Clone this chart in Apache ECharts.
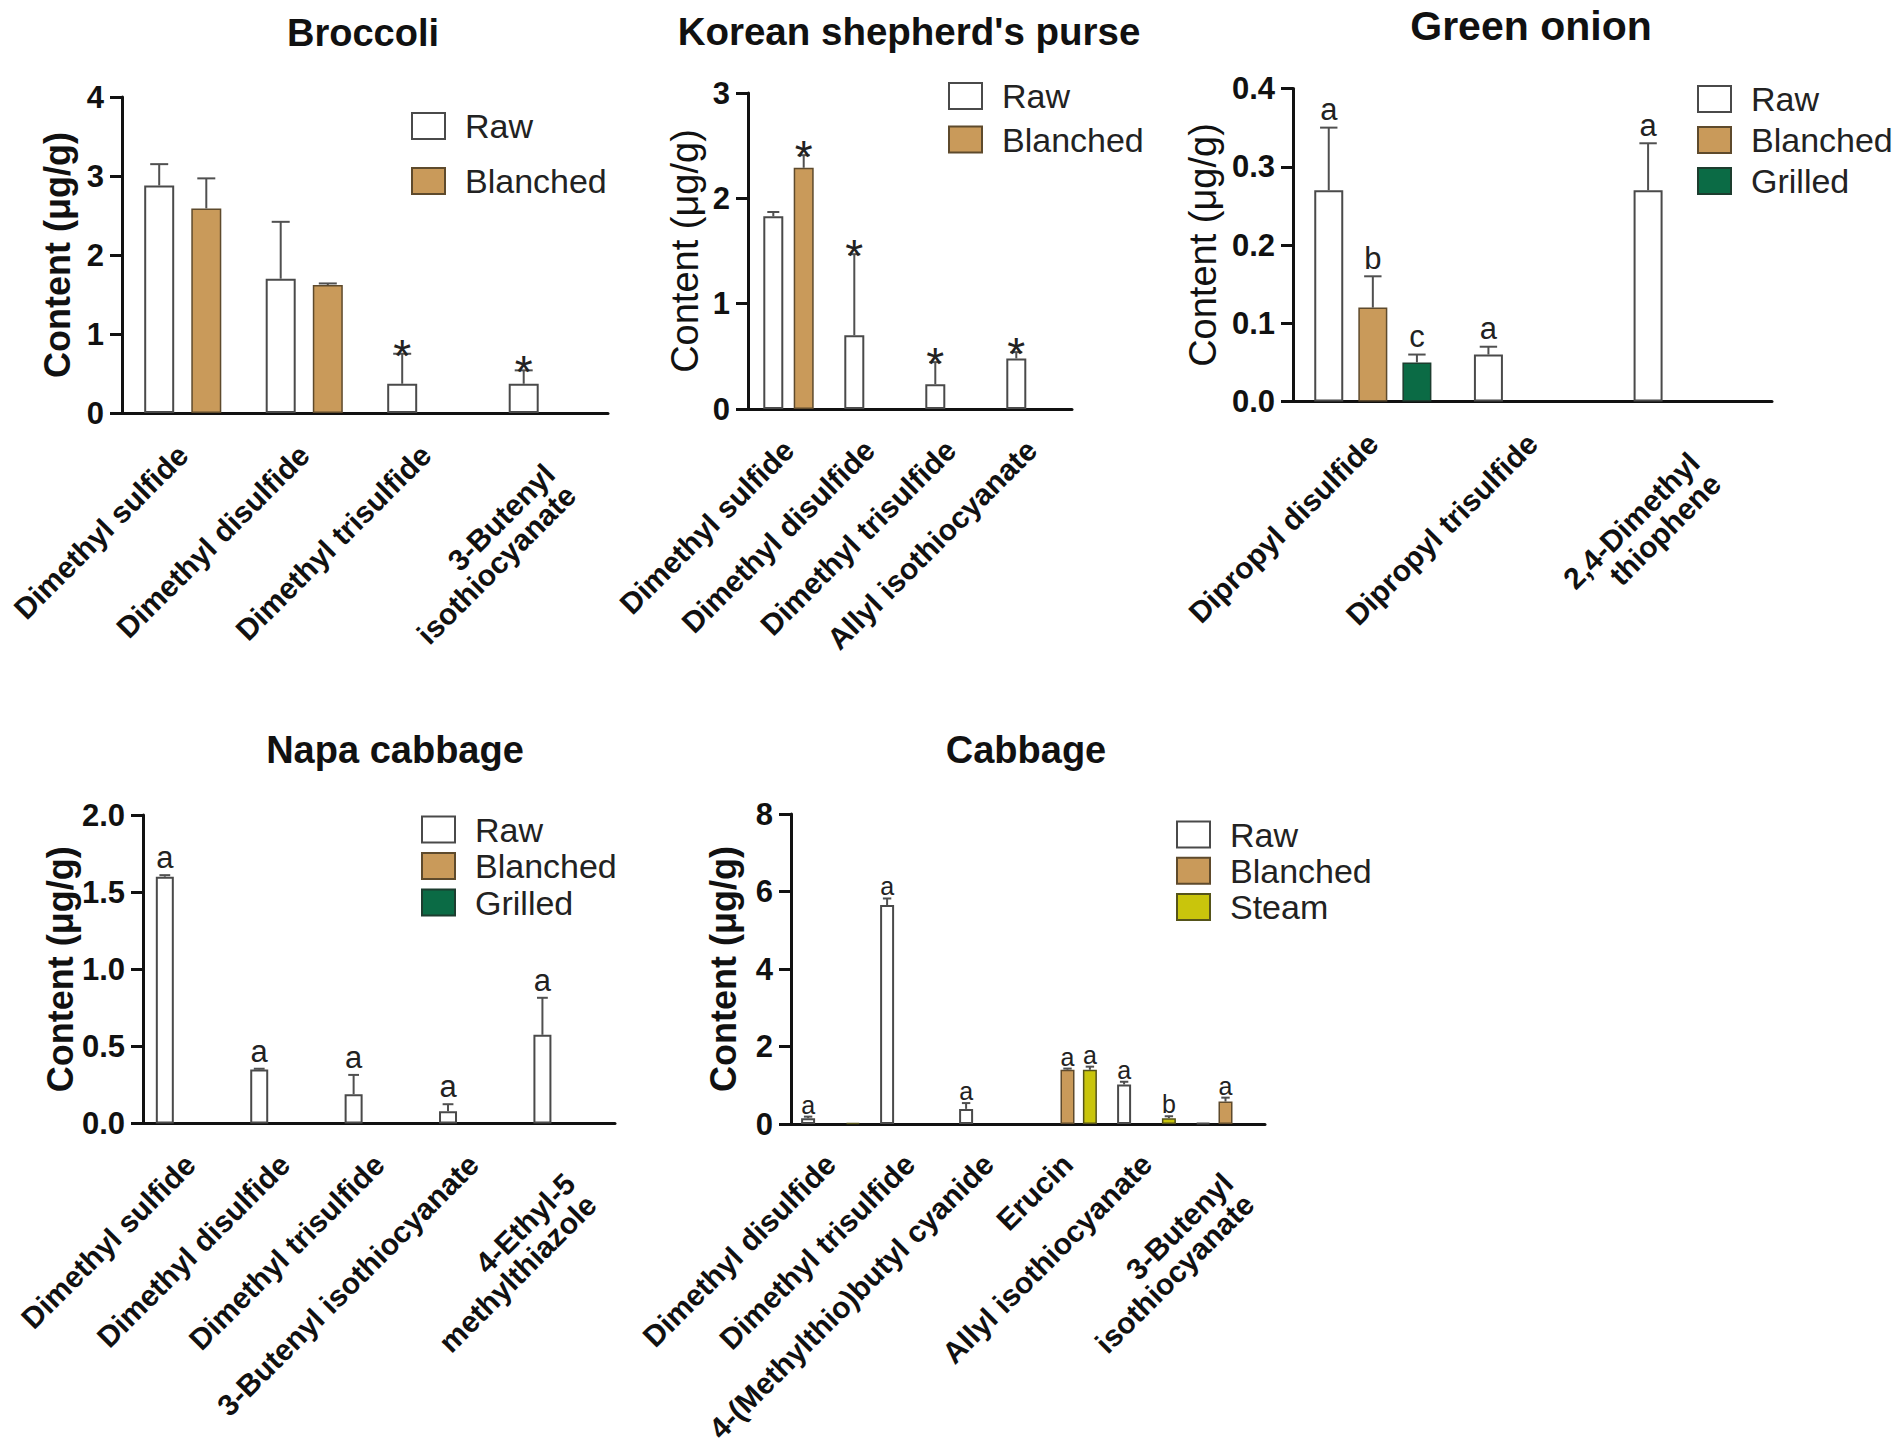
<!DOCTYPE html>
<html>
<head>
<meta charset="utf-8">
<script src="https://cdn.jsdelivr.net/npm/echarts@6/dist/echarts.min.js"></script>
<style>
html,body{margin:0;padding:0;background:#ffffff;}
#chart{width:1902px;height:1454px;}
</style>
</head>
<body>
<div id="chart"></div>
<script>
// ---------------- DATA ----------------
const broccoliCategories = ['Dimethyl sulfide', 'Dimethyl disulfide', 'Dimethyl trisulfide', '3-Butenyl\nisothiocyanate'];
const broccoliYTicks = [0, 1, 2, 3, 4];
const broccoliRaw = [2.88, 1.70, 0.37, 0.37];
const broccoliRawSD = [0.27, 0.72, 0.38, 0.17];
const broccoliRawMarks = ['', '', '*', '*'];
const broccoliBlanched = [2.59, 1.62, null, null];
const broccoliBlanchedSD = [0.38, 0.02, null, null];
const broccoliBlanchedMarks = ['', '', '', ''];

const kspCategories = ['Dimethyl sulfide', 'Dimethyl disulfide', 'Dimethyl trisulfide', 'Allyl isothiocyanate'];
const kspYTicks = [0, 1, 2, 3];
const kspRaw = [1.83, 0.70, 0.235, 0.48];
const kspRawSD = [0.04, 0.77, 0.21, 0.06];
const kspRawMarks = ['', '*', '*', '*'];
const kspBlanched = [2.29, null, null, null];
const kspBlanchedSD = [0.12, null, null, null];
const kspBlanchedMarks = ['*', '', '', ''];

const onionCategories = ['Dipropyl disulfide', 'Dipropyl trisulfide', '2,4-Dimethyl\nthiophene'];
const onionYTicks = [0.0, 0.1, 0.2, 0.3, 0.4];
const onionRaw = [0.27, 0.06, 0.27];
const onionRawSD = [0.08, 0.01, 0.06];
const onionRawMarks = ['a', 'a', 'a'];
const onionBlanched = [0.12, null, null];
const onionBlanchedSD = [0.04, null, null];
const onionBlanchedMarks = ['b', '', ''];
const onionGrilled = [0.05, null, null];
const onionGrilledSD = [0.01, null, null];
const onionGrilledMarks = ['c', '', ''];

const napaCategories = ['Dimethyl sulfide', 'Dimethyl disulfide', 'Dimethyl trisulfide', '3-Butenyl isothiocyanate', '4-Ethyl-5\nmethylthiazole'];
const napaYTicks = [0.0, 0.5, 1.0, 1.5, 2.0];
const napaRaw = [1.60, 0.35, 0.19, 0.08, 0.575];
const napaRawSD = [0.01, 0.005, 0.125, 0.045, 0.24];
const napaRawMarks = ['a', 'a', 'a', 'a', 'a'];
const napaBlanched = [null, null, null, null, null];
const napaBlanchedSD = [null, null, null, null, null];
const napaBlanchedMarks = ['', '', '', '', ''];
const napaGrilled = [null, null, null, null, null];
const napaGrilledSD = [null, null, null, null, null];
const napaGrilledMarks = ['', '', '', '', ''];

const cabbageCategories = ['Dimethyl disulfide', 'Dimethyl trisulfide', '4-(Methylthio)butyl cyanide', 'Erucin', 'Allyl isothiocyanate', '3-Butenyl\nisothiocyanate'];
const cabbageYTicks = [0, 2, 4, 6, 8];
const cabbageRaw = [0.15, 5.65, 0.39, null, 1.02, 0.03];
const cabbageRawSD = [0.04, 0.17, 0.15, null, 0.07, 0];
const cabbageRawMarks = ['a', 'a', 'a', '', 'a', ''];
const cabbageBlanched = [null, null, null, 1.40, null, 0.58];
const cabbageBlanchedSD = [null, null, null, 0.03, null, 0.10];
const cabbageBlanchedMarks = ['', '', '', 'a', '', 'a'];
const cabbageSteam = [0.03, null, null, 1.40, 0.15, null];
const cabbageSteamSD = [0, null, null, 0.08, 0.05, null];
const cabbageSteamMarks = ['', '', '', 'a', 'b', ''];

const yAxisName = 'Content (\u03bcg/g)';

// ---------------- STYLE / LAYOUT ----------------
const FONT = '"Liberation Sans", Arial, Helvetica, sans-serif';
const STYLE = {
  Raw:      {color: '#ffffff', borderColor: '#4a4a4a', borderWidth: 2},
  Blanched: {color: '#C99A5A', borderColor: '#5e4a2c', borderWidth: 1.5},
  Grilled:  {color: '#0B6B45', borderColor: '#1d3d2f', borderWidth: 1.5},
  Steam:    {color: '#C9C50C', borderColor: '#55531a', borderWidth: 1.5}
};

const panels = [
  {title: 'Broccoli', tsize: 38, tx: 363, ty: 14, grid: {left: 122, top: 97, width: 486, height: 316},
   cats: broccoliCategories, ticks: broccoliYTicks, dec: 0,
   groups: [
     {name: 'Raw', v: broccoliRaw, sd: broccoliRawSD, m: broccoliRawMarks},
     {name: 'Blanched', v: broccoliBlanched, sd: broccoliBlanchedSD, m: broccoliBlanchedMarks}],
   bw: 30, gap: 0.57, legend: {left: 411, top: 109, gap: 21}, nameGap: 47, nameSize: 36, nameBold: 'bold',
   markSize: 46, markDy: -2, xMargin: 37},
  {title: "Korean shepherd's purse", tsize: 38.5, tx: 909, ty: 12, grid: {left: 748, top: 93, width: 324, height: 316},
   cats: kspCategories, ticks: kspYTicks, dec: 0,
   groups: [
     {name: 'Raw', v: kspRaw, sd: kspRawSD, m: kspRawMarks},
     {name: 'Blanched', v: kspBlanched, sd: kspBlanchedSD, m: kspBlanchedMarks}],
   bw: 20, gap: 0.52, legend: {left: 948, top: 79, gap: 9.5}, nameGap: 44, nameSize: 38, nameBold: 'normal',
   markSize: 46, markDy: -2, xMargin: 36},
  {title: 'Green onion', tsize: 41, tx: 1531, ty: 5, grid: {left: 1293, top: 88.5, width: 479, height: 313},
   cats: onionCategories, ticks: onionYTicks, dec: 1,
   groups: [
     {name: 'Raw', v: onionRaw, sd: onionRawSD, m: onionRawMarks},
     {name: 'Blanched', v: onionBlanched, sd: onionBlanchedSD, m: onionBlanchedMarks},
     {name: 'Grilled', v: onionGrilled, sd: onionGrilledSD, m: onionGrilledMarks}],
   bw: 29, gap: 0.52, legend: {left: 1697, top: 82, gap: 7}, nameGap: 71, nameSize: 38, nameBold: 'normal',
   markSize: 31, markDy: 18, xMargin: 37},
  {title: 'Napa cabbage', tsize: 38, tx: 395, ty: 731, grid: {left: 143, top: 815, width: 472, height: 308.5},
   cats: napaCategories, ticks: napaYTicks, dec: 1,
   groups: [
     {name: 'Raw', v: napaRaw, sd: napaRawSD, m: napaRawMarks},
     {name: 'Blanched', v: napaBlanched, sd: napaBlanchedSD, m: napaBlanchedMarks},
     {name: 'Grilled', v: napaGrilled, sd: napaGrilledSD, m: napaGrilledMarks}],
   bw: 18, gap: 0.41, legend: {left: 421, top: 812.5, gap: 2.5}, nameGap: 62, nameSize: 36, nameBold: 'bold',
   markSize: 31, markDy: 17.5, xMargin: 36},
  {title: 'Cabbage', tsize: 38, tx: 1026, ty: 731, grid: {left: 791, top: 814, width: 474, height: 310},
   cats: cabbageCategories, ticks: cabbageYTicks, dec: 0,
   groups: [
     {name: 'Raw', v: cabbageRaw, sd: cabbageRawSD, m: cabbageRawMarks},
     {name: 'Blanched', v: cabbageBlanched, sd: cabbageBlanchedSD, m: cabbageBlanchedMarks},
     {name: 'Steam', v: cabbageSteam, sd: cabbageSteamSD, m: cabbageSteamMarks}],
   bw: 14, gap: 0.6, legend: {left: 1176, top: 817.5, gap: 2.3}, nameGap: 50, nameSize: 36, nameBold: 'bold',
   markSize: 25, markDy: 12, xMargin: 35}
];

// ---------------- BUILD OPTION ----------------
const option = {
  animation: false,
  backgroundColor: '#ffffff',
  textStyle: {fontFamily: FONT},
  title: [], grid: [], xAxis: [], yAxis: [], legend: [], series: []
};

panels.forEach((p, k) => {
  option.title.push({
    text: p.title, left: p.tx, top: p.ty, textAlign: 'center', padding: 0,
    textStyle: {fontSize: p.tsize, fontWeight: 'bold', color: '#111', fontFamily: FONT}
  });
  option.grid.push(Object.assign({containLabel: false, outerBoundsMode: 'none'}, p.grid));
  option.xAxis.push({
    type: 'category', gridIndex: k,
    data: p.cats.map(c => c.indexOf('\n') >= 0 ? {value: c, textStyle: {verticalAlign: 'top', padding: [0, 12, 0, 0]}} : c),
    axisLine: {lineStyle: {color: '#111', width: 3}},
    axisTick: {alignWithLabel: true, length: 12, lineStyle: {color: '#111', width: 3}},
    axisLabel: {interval: 0, rotate: 45, fontSize: 30, fontWeight: 'bold', color: '#111', margin: p.xMargin, fontFamily: FONT}
  });
  const t = p.ticks;
  option.yAxis.push({
    type: 'value', gridIndex: k, min: t[0], max: t[t.length - 1], interval: t[1] - t[0],
    axisLine: {show: true, lineStyle: {color: '#111', width: 3}},
    axisTick: {show: true, length: 12, lineStyle: {color: '#111', width: 3}},
    splitLine: {show: false},
    axisLabel: {fontSize: 31, fontWeight: 'bold', color: '#111', margin: 18, fontFamily: FONT,
      formatter: v => Number(v).toFixed(p.dec)},
    name: yAxisName, nameLocation: 'middle', nameGap: p.nameGap,
    nameTextStyle: {fontSize: p.nameSize, fontWeight: p.nameBold, color: '#111', fontFamily: FONT}
  });
  option.legend.push({
    orient: 'vertical', left: p.legend.left, top: p.legend.top, itemGap: p.legend.gap,
    itemWidth: 33, itemHeight: 26, icon: 'rect', selectedMode: false, padding: 0,
    data: p.groups.map(g => g.name),
    textStyle: {fontSize: 34, color: '#222', lineHeight: 34, padding: [0, 0, 0, 15], fontFamily: FONT}
  });
  const n = p.groups.length;
  p.groups.forEach((g, gi) => {
    option.series.push({
      type: 'bar', name: g.name, xAxisIndex: k, yAxisIndex: k,
      data: g.v, barWidth: p.bw, barGap: (p.gap * 100) + '%',
      itemStyle: STYLE[g.name], emphasis: {disabled: true}, silent: true
    });
    const offset = (gi - (n - 1) / 2) * p.bw * (1 + p.gap);
    const capHalf = p.bw * 0.3;
    const errData = [];
    g.v.forEach((val, i) => { if (val != null) errData.push([i, val, g.sd[i] || 0]); });
    option.series.push({
      type: 'custom', name: g.name + ' error', xAxisIndex: k, yAxisIndex: k, z: 5, silent: true,
      clip: false, data: errData, encode: {x: 0, y: 1},
      renderItem: (params, api) => {
        const i = api.value(0), val = api.value(1), sd = api.value(2);
        const b = api.coord([i, val]);
        const tp = api.coord([i, val + sd]);
        const x = b[0] + offset;
        const ch = [];
        if (sd > 0) {
          ch.push({type: 'line', shape: {x1: x, y1: b[1], x2: x, y2: tp[1]}, style: {stroke: '#505050', lineWidth: 2}});
          ch.push({type: 'line', shape: {x1: x - capHalf, y1: tp[1], x2: x + capHalf, y2: tp[1]}, style: {stroke: '#505050', lineWidth: 2}});
        }
        const m = g.m[i];
        if (m) {
          ch.push({type: 'text', x: x, y: tp[1] - p.markDy,
            style: {text: m, fontSize: p.markSize, fontFamily: FONT, fill: '#222', align: 'center', verticalAlign: 'middle'}});
        }
        return {type: 'group', children: ch};
      }
    });
  });
});

const chart = echarts.init(document.getElementById('chart'), null, {renderer: 'svg', width: 1902, height: 1454});
chart.setOption(option);
</script>
</body>
</html>
